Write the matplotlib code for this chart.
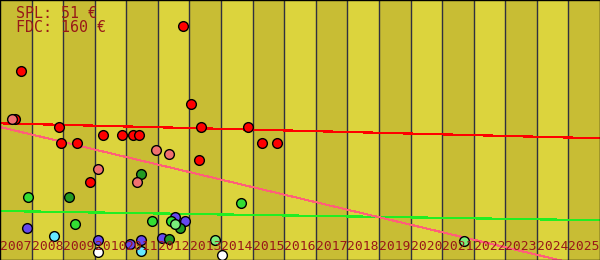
import matplotlib
matplotlib.use("Agg")
import matplotlib.pyplot as plt

# year range shown as bands
years = list(range(2007, 2026))
year_labels = [str(y) for y in years]

# points: year (fractional) and price level
red_x = [2012.80, 2007.66, 2013.05, 2007.47, 2008.87, 2013.37, 2014.85, 2008.93, 2009.44,
         2010.26, 2010.86, 2011.21, 2011.40, 2013.30, 2015.30, 2015.77, 2009.85]
red_y = [234, 189, 156, 141, 133, 133, 133, 117, 117, 125, 125, 125, 125, 100, 117, 117, 78]

salmon_x = [2007.38, 2011.94, 2012.35, 2010.10, 2011.34]
salmon_y = [141, 110, 106, 91, 78]

green_x = [2007.89, 2009.38, 2011.81, 2012.42, 2014.63]
green_y = [63, 36, 39, 39, 57]

dkgreen_x = [2009.19, 2011.47, 2012.70, 2012.35]
dkgreen_y = [63, 86, 32, 21]

blue_x = [2007.86, 2010.10, 2011.12, 2011.47, 2012.54, 2012.86, 2012.13]
blue_y = [32, 20, 16, 20, 43, 39, 22]

lgreen_x = [2012.54, 2013.81, 2021.69]
lgreen_y = [36, 20, 19]

cyan_x = [2008.71, 2011.47]
cyan_y = [24, 9]

white_x = [2010.10, 2014.03]
white_y = [8, 5]

# trend lines (start / end of the year range)
trend_x = [2007, 2026]
trend_red = [136.7, 121.7]
trend_green = [49.0, 39.7]
trend_pink = [133.0, -9.8]

spl_text = "SPL: 51 €"
fdc_text = "FDC: 160 €"

txt_col = "#981818"
band_dark = "#C8BD34"
band_light = "#DCD43D"

fig = plt.figure(figsize=(6, 2.6), dpi=100)
ax = fig.add_axes([0, 0, 1, 1])
ax.set_xlim(2007, 2026)
ax.set_ylim(0, 260)

#background bands and year separators
for i, y in enumerate(years):
    ax.axvspan(y, y + 1, color=band_dark if i % 2 == 0 else band_light, lw=0, zorder=0)
    if i > 0:
        ax.axvline(y, color="#303040", lw=1.0, zorder=1)

ax.plot(trend_x, trend_red, color="#FF0000", lw=0.9, antialiased=False, zorder=2)
ax.plot(trend_x, trend_green, color="#22EE22", lw=0.9, antialiased=False, zorder=2)
ax.plot(trend_x, trend_pink, color="#FF6078", lw=0.75, antialiased=False, zorder=2)

mk = dict(marker="o", ls="none", ms=7, mec="black", mew=1, zorder=3)
ax.plot(white_x, white_y, mfc="#FFFFFF", **mk)
ax.plot(cyan_x, cyan_y, mfc="#66E8FF", **mk)
ax.plot(blue_x, blue_y, mfc="#6648EE", **mk)
ax.plot(dkgreen_x, dkgreen_y, mfc="#229A22", **mk)
ax.plot(green_x, green_y, mfc="#33DD33", **mk)
ax.plot(lgreen_x, lgreen_y, mfc="#7AEE7A", **mk)
ax.plot(red_x, red_y, mfc="#FF0000", **mk)
ax.plot(salmon_x, salmon_y, mfc="#F07070", **mk)

ax.set_xticks([])
ax.set_yticks([])
for s in ax.spines.values():
    s.set_color("black")
    s.set_linewidth(1)

# year labels along the bottom, each fills its own band
for y, lab in zip(years, year_labels):
    ax.text(y + 0.5, 1 - 250 / 260, lab, transform=ax.get_xaxis_transform(),
            ha="center", va="baseline", family="DejaVu Sans Mono", fontsize=9.4,
            color=txt_col, zorder=4)

fig.text(16 / 600, 1 - 17.5 / 260, spl_text, family="DejaVu Sans Mono", fontsize=10.8,
         color=txt_col, va="baseline")
fig.text(16 / 600, 1 - 31.5 / 260, fdc_text, family="DejaVu Sans Mono", fontsize=10.8,
         color=txt_col, va="baseline")

fig.savefig("out.png", dpi=100)
